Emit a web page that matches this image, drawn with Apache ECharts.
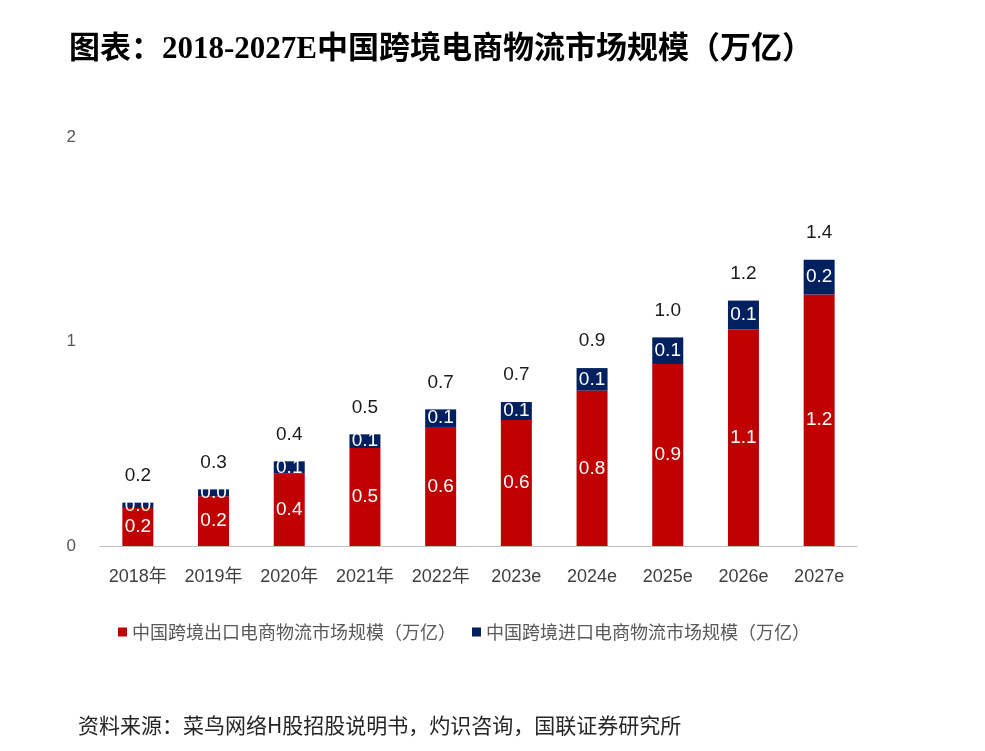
<!DOCTYPE html>
<html>
<head>
<meta charset="utf-8">
<script src="https://cdn.jsdelivr.net/npm/echarts@6/dist/echarts.min.js"></script>
<style>
html,body{margin:0;padding:0;background:#fff;}
#chart{width:985px;height:751px;}
</style>
</head>
<body>
<div id="chart"></div>
<script>
const titleText = '图表：2018-2027E中国跨境电商物流市场规模（万亿）';
const sourceText = '资料来源：菜鸟网络H股招股说明书，灼识咨询，国联证券研究所';
const categories = ['2018年','2019年','2020年','2021年','2022年','2023e','2024e','2025e','2026e','2027e'];
const exportName = '中国跨境出口电商物流市场规模（万亿）';
const importName = '中国跨境进口电商物流市场规模（万亿）';
const exportValues = [0.186, 0.243, 0.354, 0.479, 0.582, 0.616, 0.76, 0.89, 1.06, 1.23];
const importValues = [0.026, 0.034, 0.06, 0.067, 0.086, 0.088, 0.11, 0.13, 0.14, 0.17];
const totals = exportValues.map((v, i) => +(v + importValues[i]).toFixed(3));
const yTicks = [0, 1, 2];

const chart = echarts.init(document.getElementById('chart'));
const numFont = "'Liberation Sans', Arial, sans-serif";
const cjkFont = "'Liberation Sans', 'Noto Sans CJK SC', sans-serif";
chart.setOption({
  backgroundColor: '#ffffff',
  animation: false,
  title: [
    {
      text: titleText, left: 64, top: 29,
      textStyle: { fontFamily: "'Liberation Serif', 'Noto Sans CJK SC', serif", fontWeight: 'bold', fontSize: 31, color: '#000' }
    },
    {
      text: sourceText, left: 73, top: 710,
      textStyle: { fontFamily: "'Noto Sans CJK SC', sans-serif", fontWeight: 'normal', fontSize: 21, color: '#262626' }
    }
  ],
  legend: {
    data: [exportName, importName],
    left: 113, top: 618,
    icon: 'rect', itemWidth: 9, itemHeight: 9, itemGap: 16,
    textStyle: { fontFamily: "'Noto Sans CJK SC', sans-serif", fontSize: 18, color: '#595959' }
  },
  grid: { left: 100, right: 128, top: 137, bottom: 205 },
  xAxis: {
    type: 'category', data: categories,
    axisLine: { show: true, lineStyle: { color: '#bfbfbf', width: 1 } },
    axisTick: { show: false },
    axisLabel: { margin: 22, fontFamily: cjkFont, fontSize: 18, color: '#404040' }
  },
  yAxis: {
    type: 'value', min: yTicks[0], max: yTicks[yTicks.length - 1], interval: 1,
    axisLine: { show: false }, axisTick: { show: false }, splitLine: { show: false },
    axisLabel: { margin: 24, fontFamily: numFont, fontSize: 17, color: '#595959' }
  },
  series: [
    {
      name: exportName, type: 'bar', stack: 'total', data: exportValues, barWidth: 31,
      itemStyle: { color: '#C00000' },
      label: { show: true, position: 'inside', color: '#fff', fontFamily: numFont, fontSize: 19,
        formatter: p => p.value.toFixed(1) }
    },
    {
      name: importName, type: 'bar', stack: 'total', data: importValues, barWidth: 31,
      itemStyle: { color: '#002060' },
      label: { show: true, position: 'inside', color: '#fff', fontFamily: numFont, fontSize: 19,
        formatter: p => p.value.toFixed(1) }
    },
    {
      name: 'total', type: 'line', data: totals,
      symbol: 'circle', symbolSize: 1,
      itemStyle: { color: 'rgba(0,0,0,0)' },
      lineStyle: { width: 0, opacity: 0 },
      label: { show: true, position: 'top', distance: 17, color: '#1a1a1a', fontFamily: numFont, fontSize: 19,
        formatter: p => p.value.toFixed(1) },
      z: 5
    }
  ]
});
</script>
</body>
</html>
